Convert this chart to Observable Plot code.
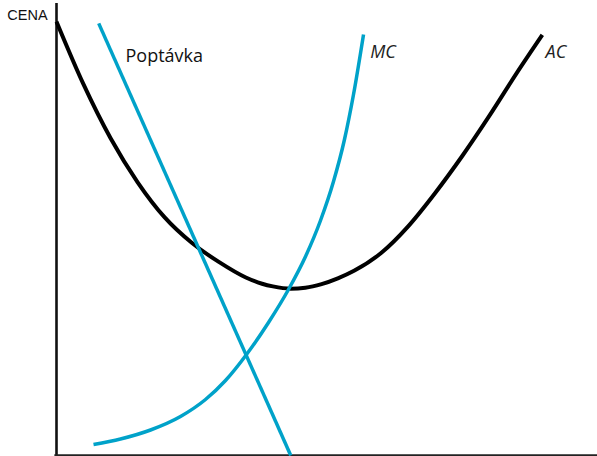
<!DOCTYPE html>
<html>
<head>
<meta charset="utf-8">
<script src="https://cdn.jsdelivr.net/npm/d3@7"></script>
<script src="https://cdn.jsdelivr.net/npm/@observablehq/plot@0.6"></script>
<style>
  html, body { margin: 0; padding: 0; background: #fff; }
  #chart svg { display: block; }
</style>
</head>
<body>
<div id="chart"></div>
<script>
// Quantity (x) and price (y) in abstract units 0..100
const demandQ = [7.8, 43.3];
const demandP = [97.1, 0];

const acQ = [0, 5, 10, 15, 20, 25, 30, 35, 38, 40, 43.3, 46, 49, 52, 55, 60, 65, 70, 75, 80, 85, 89.8];
const acP = [97.5, 83.4, 71.3, 61.4, 53.5, 47.8, 43.5, 40.0, 38.6, 38.0, 37.5, 37.7, 38.5, 39.8, 41.5, 45.5, 51.5, 59, 67.3, 76.3, 85.8, 94.5];

const mcQ = [6.84, 11.83, 17.38, 22.92, 27.54, 31.24, 35.12, 39.19, 42.88, 46.03, 48.80, 51.20, 53.23, 54.90, 56.75];
const mcP = [2.47, 3.71, 5.73, 8.76, 12.58, 16.85, 22.70, 29.89, 37.30, 44.72, 52.81, 61.57, 71.01, 81.12, 94.61];

const labelTexts = ["Poptávka", "MC", "AC"];
const labelQ = [12.75, 58.0, 90.4];
const labelP = [89.8, 90.6, 90.6];

const axisLabel = "CENA";

const toPts = (qs, ps) => qs.map((q, i) => ({q, p: ps[i]}));
const demand = toPts(demandQ, demandP);
const ac = toPts(acQ, acP);
const mc = toPts(mcQ, mcP);
const labels = labelTexts.map((t, i) => ({t, q: labelQ[i], p: labelP[i]}));

const BLUE = "#00a2c9";

const chart = Plot.plot({
  width: 597,
  height: 456,
  marginLeft: 56,
  marginRight: 0,
  marginTop: 10,
  marginBottom: 1,
  x: {domain: [0, 100], axis: null},
  y: {domain: [0, 100], axis: null},
  style: {background: "#fff", overflow: "visible"},
  marks: [
    Plot.ruleX([0], {y1: 0, y2: 101.6, stroke: "#111", strokeWidth: 2.6, clip: false}),
    Plot.ruleY([0], {x1: -0.3, x2: 100, stroke: "#222", strokeWidth: 2.4, clip: false}),
    Plot.line(ac, {x: "q", y: "p", stroke: "#000", strokeWidth: 4, curve: "monotone-x", strokeLinecap: "butt"}),
    Plot.line(demand, {x: "q", y: "p", stroke: BLUE, strokeWidth: 3.5, strokeLinecap: "butt"}),
    Plot.line(mc, {x: "q", y: "p", stroke: BLUE, strokeWidth: 3.5, curve: "monotone-x", strokeLinecap: "butt"}),
    Plot.text([labels[0]], {x: "q", y: "p", text: "t", textAnchor: "start", fontSize: 18, fontFamily: "Open Sans", fill: "#111", clip: false}),
    Plot.text(labels.slice(1), {x: "q", y: "p", text: "t", textAnchor: "start", fontSize: 18, fontFamily: "Open Sans", fontStyle: "italic", fill: "#222", clip: false}),
    Plot.text([axisLabel], {x: -9.1, y: 98.8, textAnchor: "start", fontSize: 14.5, fontFamily: "Liberation Sans", fill: "#111", clip: false})
  ]
});
document.getElementById("chart").appendChild(chart);
</script>
</body>
</html>
